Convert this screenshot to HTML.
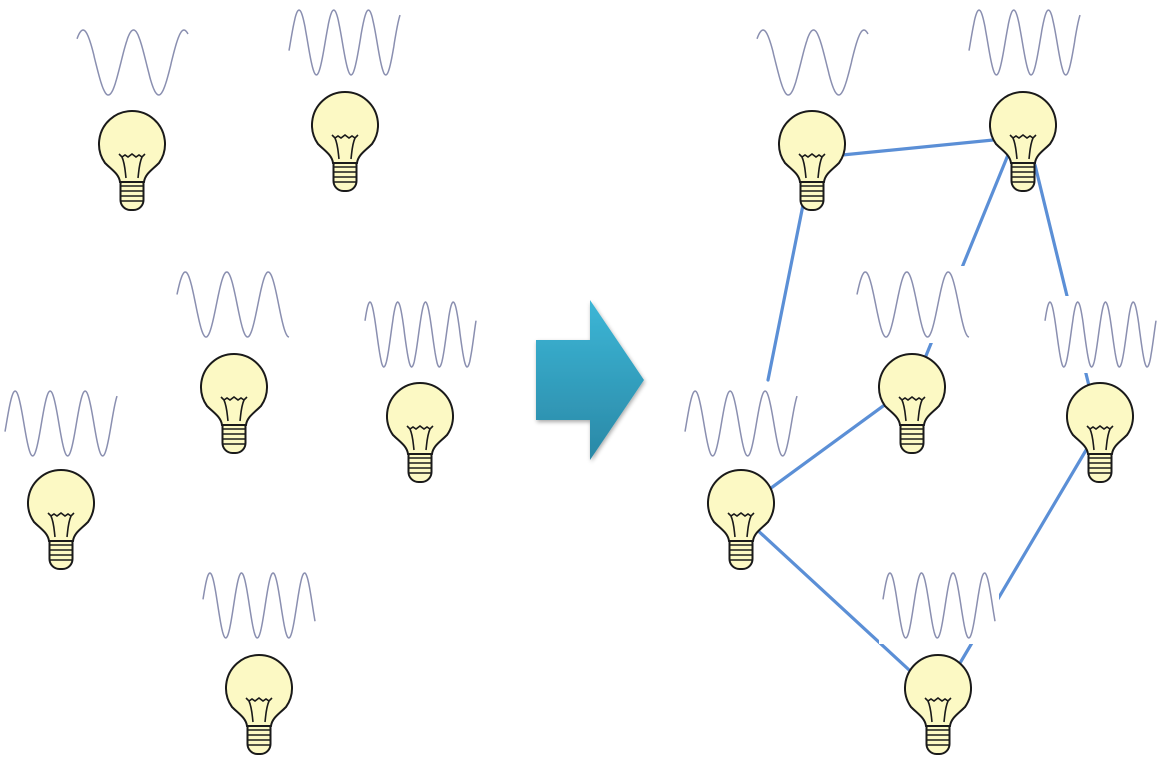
<!DOCTYPE html>
<html><head><meta charset="utf-8"><style>html,body{margin:0;padding:0;background:#fff}svg{display:block}</style></head>
<body>
<svg id="s" width="1170" height="767" viewBox="0 0 1170 767" xmlns="http://www.w3.org/2000/svg">
<defs>
<linearGradient id="ag" x1="0" y1="0" x2="0" y2="1">
<stop offset="0" stop-color="#3cb6d6"/><stop offset="1" stop-color="#2a88a6"/></linearGradient>
<filter id="sh" x="-20%" y="-20%" width="140%" height="140%"><feGaussianBlur in="SourceAlpha" stdDeviation="2"/><feOffset dx="1" dy="2"/><feComponentTransfer><feFuncA type="linear" slope="0.35"/></feComponentTransfer><feMerge><feMergeNode/><feMergeNode in="SourceGraphic"/></feMerge></filter>
<g id="bulb" stroke="#1a1a1a" stroke-width="2" fill="#fcf9c4">
<rect x="-11.5" y="62" width="23" height="36" rx="10"/>
<path d="M-12,70 C-13,62 -20,58 -27,51 A33,33 0 1 1 27,51 C20,58 13,62 12,70 Z"/>
<g fill="none" stroke-width="1.6">
<line x1="-11.5" y1="74" x2="11.5" y2="74"/><line x1="-11.5" y1="79" x2="11.5" y2="79"/><line x1="-11.5" y1="84" x2="11.5" y2="84"/><line x1="-11.5" y1="89" x2="11.5" y2="89"/>
<path d="M-13,42 l3,3 l3,-2 l3,2 l4,-3 l4,3 l3,-2 l3,2 l3,-3"/>
<path d="M-10,45 C-7,52 -7,58 -6,66 M10,45 C7,52 7,58 6,66"/>
</g></g>
</defs>
<g stroke="#5b8fd6" stroke-width="3.2" fill="none" stroke-linecap="round">
<line x1="812" y1="158" x2="1023" y2="137"/>
<line x1="805" y1="195" x2="768" y2="380"/>
<line x1="1010" y1="150" x2="912" y2="390"/>
<line x1="1035" y1="165" x2="1090" y2="390"/>
<line x1="741" y1="510" x2="905" y2="390"/>
<line x1="741" y1="515" x2="920" y2="680"/>
<line x1="950" y1="680" x2="1095" y2="435"/>
</g>
<g id="waves"></g>
<g id="bulbs">
<use href="#bulb" x="132" y="112"/><use href="#bulb" x="345" y="93"/><use href="#bulb" x="234" y="355"/>
<use href="#bulb" x="420" y="384"/><use href="#bulb" x="61" y="471"/><use href="#bulb" x="259" y="656"/>
<use href="#bulb" x="812" y="112"/><use href="#bulb" x="1023" y="93"/><use href="#bulb" x="912" y="355"/>
<use href="#bulb" x="1100" y="384"/><use href="#bulb" x="741" y="471"/><use href="#bulb" x="938" y="656"/>
</g>
<path filter="url(#sh)" fill="url(#ag)" d="M536,340 L590,340 L590,300 L644,380 L590,460 L590,420 L536,420 Z"/>
</svg>
<script>
var B=[[77,188,30,95,2.2,0.13],[289,400,10,75,3.2,-0.04],[177,289,272,337,2.7,0.05],[365,476,302,367,4.0,0.07],[5,117,391,456,3.2,-0.04],[203,315,573,638,3.55,0.03]];
var W=[];B.forEach(function(b){W.push(b);});B.forEach(function(b){W.push([b[0]+680,b[1]+680,b[2],b[3],b[4],b[5]]);});
var g=document.getElementById('waves'),h='';
W.forEach(function(w,k){var x0=w[0],x1=w[1],y0=w[2],y1=w[3],n=w[4],ph=w[5];
if(k>=6)h+='<rect x="'+(x0-4)+'" y="'+(y0-6)+'" width="'+(x1-x0+8)+'" height="'+(y1-y0+12)+'" fill="#fff"/>';
var d='',N=160;for(var i=0;i<=N;i++){var t=i/N,x=x0+t*(x1-x0),y=(y0+y1)/2-(y1-y0)/2*Math.sin(2*Math.PI*(n*t+ph));d+=(i?'L':'M')+x.toFixed(1)+','+y.toFixed(1);}
h+='<path d="'+d+'" fill="none" stroke="#8a8fb0" stroke-width="1.5"/>';});
g.innerHTML=h;
</script>
</body></html>
